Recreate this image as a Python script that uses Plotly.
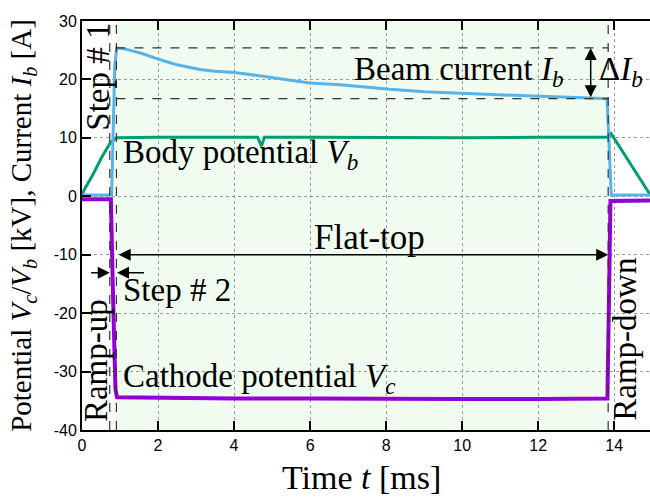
import plotly.graph_objects as go

# ---- data ----
t_beam = [0.0, 0.78, 0.86, 0.91, 1.2, 1.6, 2.04, 2.5, 3.1, 3.5, 4.02, 4.68, 5.3, 5.99, 6.78, 7.57, 8.1, 9.0, 10.07, 11.0, 12.04, 13.0, 13.81, 13.87, 13.92, 14.94]
i_beam = [0.2, 0.2, 22.0, 25.4, 25.1, 24.4, 23.4, 22.5, 21.7, 21.4, 21.2, 20.6, 20.0, 19.4, 19.1, 18.6, 18.3, 17.9, 17.6, 17.3, 17.1, 16.9, 16.7, 8.0, 0.2, 0.2]

t_body = [0.0, 0.1, 0.27, 0.53, 0.75, 0.9, 2.0, 4.62, 4.72, 4.8, 6.0, 8.0, 10.0, 12.0, 13.84, 13.92, 14.94]
v_body = [0.3, 1.6, 3.5, 6.8, 9.2, 10.0, 10.1, 10.1, 8.6, 10.1, 10.1, 10.0, 10.0, 10.1, 10.1, 10.7, 0.3]

t_cath = [0.0, 0.76, 0.82, 0.88, 0.92, 2.0, 4.0, 6.0, 8.0, 10.0, 12.0, 13.82, 13.86, 13.9, 14.94]
v_cath = [-0.5, -0.5, -18.0, -33.0, -34.4, -34.5, -34.6, -34.6, -34.7, -34.7, -34.7, -34.6, -18.0, -0.8, -0.7]

x_ticks = [0, 2, 4, 6, 8, 10, 12, 14]
y_ticks = [-40, -30, -20, -10, 0, 10, 20, 30]

phase_lines = [0.73, 0.905, 13.84]
flat_start, flat_end = 0.905, 13.84
ib_max, ib_min = 25.4, 16.7

SERIF = "Liberation Serif"
SANS = "Liberation Sans"
LBL = 33

fig = go.Figure()
fig.add_trace(go.Scatter(x=t_cath, y=v_cath, mode="lines",
                         line=dict(color="#9400D3", width=4), showlegend=False))
fig.add_trace(go.Scatter(x=t_body, y=v_body, mode="lines",
                         line=dict(color="#009E73", width=3), showlegend=False))
fig.add_trace(go.Scatter(x=t_beam, y=i_beam, mode="lines",
                         line=dict(color="#56B4E9", width=3), showlegend=False))

shapes = [dict(type="rect", xref="x", yref="y", x0=flat_start, x1=flat_end, y0=-40, y1=30,
               fillcolor="#effcef", line=dict(width=0), layer="below")]
for xv in phase_lines:
    shapes.append(dict(type="line", xref="x", yref="y", x0=xv, x1=xv, y0=-40, y1=30,
                       line=dict(color="#333333", width=1.2, dash="dash")))
for yv in [ib_max, ib_min]:
    shapes.append(dict(type="line", xref="x", yref="y", x0=flat_start, x1=flat_end, y0=yv, y1=yv,
                       line=dict(color="#333333", width=1.2, dash="dash")))

def txt(x, y, s, size=LBL, angle=0, xanchor="center"):
    return dict(x=x, y=y, xref="x", yref="y", text=s, showarrow=False, textangle=angle,
                xanchor=xanchor, yanchor="middle", font=dict(family=SERIF, size=size, color="black"))

def arrow(x, y, ax, ay, side="end"):
    return dict(x=x, y=y, ax=ax, ay=ay, xref="x", yref="y", axref="x", ayref="y", text="",
                showarrow=True, arrowhead=2, arrowsize=1.6, arrowwidth=1.5, arrowcolor="black",
                arrowside=side, startarrowhead=2, startarrowsize=1.6, standoff=0, startstandoff=0)

annotations = [
    txt(9.89, 21.3, "Beam current <i>I<sub>b</sub></i>"),
    txt(13.55, 21.3, "Δ<i>I<sub>b</sub></i>", xanchor="left"),
    txt(1.02, 7.1, "Body potential <i>V<sub>b</sub></i>", xanchor="left"),
    txt(1.02, -31.1, "Cathode potential <i>V<sub>c</sub></i>", xanchor="left"),
    txt(7.57, -7.0, "Flat-top", size=35),
    txt(1.02, -16.1, "Step # 2", xanchor="left"),
    txt(0.41, 20.4, "Step # 1", angle=-90),
    txt(0.37, -28.2, "Ramp-up", angle=-90),
    txt(14.28, -24.4, "Ramp-down", angle=-90),
    arrow(flat_end, -10, flat_start + 0.02, -10, side="end+start"),
    arrow(0.73, -13.1, 0.2, -13.1),
    arrow(0.92, -13.1, 1.67, -13.1),
    arrow(13.38, ib_max, 13.38, ib_min, side="end+start"),
    dict(x=-0.105, y=0.5, xref="paper", yref="paper", showarrow=False, textangle=-90,
         text="Potential <i>V<sub>c</sub></i>/<i>V<sub>b</sub></i> [kV], Current <i>I<sub>b</sub></i> [A]",
         font=dict(family=SERIF, size=29, color="black"), xanchor="center", yanchor="middle"),
    dict(x=7.35, y=-0.115, xref="x", yref="paper", showarrow=False,
         text="Time <i>t</i> [ms]", font=dict(family=SERIF, size=34, color="black"),
         xanchor="center", yanchor="middle"),
]

fig.update_layout(
    width=650, height=497,
    margin=dict(l=82, r=0, t=21, b=67),
    paper_bgcolor="white", plot_bgcolor="white",
    shapes=shapes, annotations=annotations,
    xaxis=dict(range=[0, 14.94], tickvals=x_ticks, ticktext=[str(v) for v in x_ticks],
               ticks="inside", ticklen=9, tickwidth=1.5, tickcolor="black",
               showline=True, linecolor="black", linewidth=2, mirror="ticks",
               showgrid=True, gridcolor="#9a9a9a", griddash="dot", gridwidth=1,
               zeroline=False, tickfont=dict(family=SANS, size=16, color="black")),
    yaxis=dict(range=[-40, 30], tickvals=y_ticks, ticktext=[str(v) for v in y_ticks],
               ticks="inside", ticklen=9, tickwidth=1.5, tickcolor="black",
               showline=True, linecolor="black", linewidth=2, mirror=False,
               showgrid=True, gridcolor="#9a9a9a", griddash="dot", gridwidth=1,
               zeroline=False, tickfont=dict(family=SANS, size=16, color="black")),
)

fig.write_html("out.html")
